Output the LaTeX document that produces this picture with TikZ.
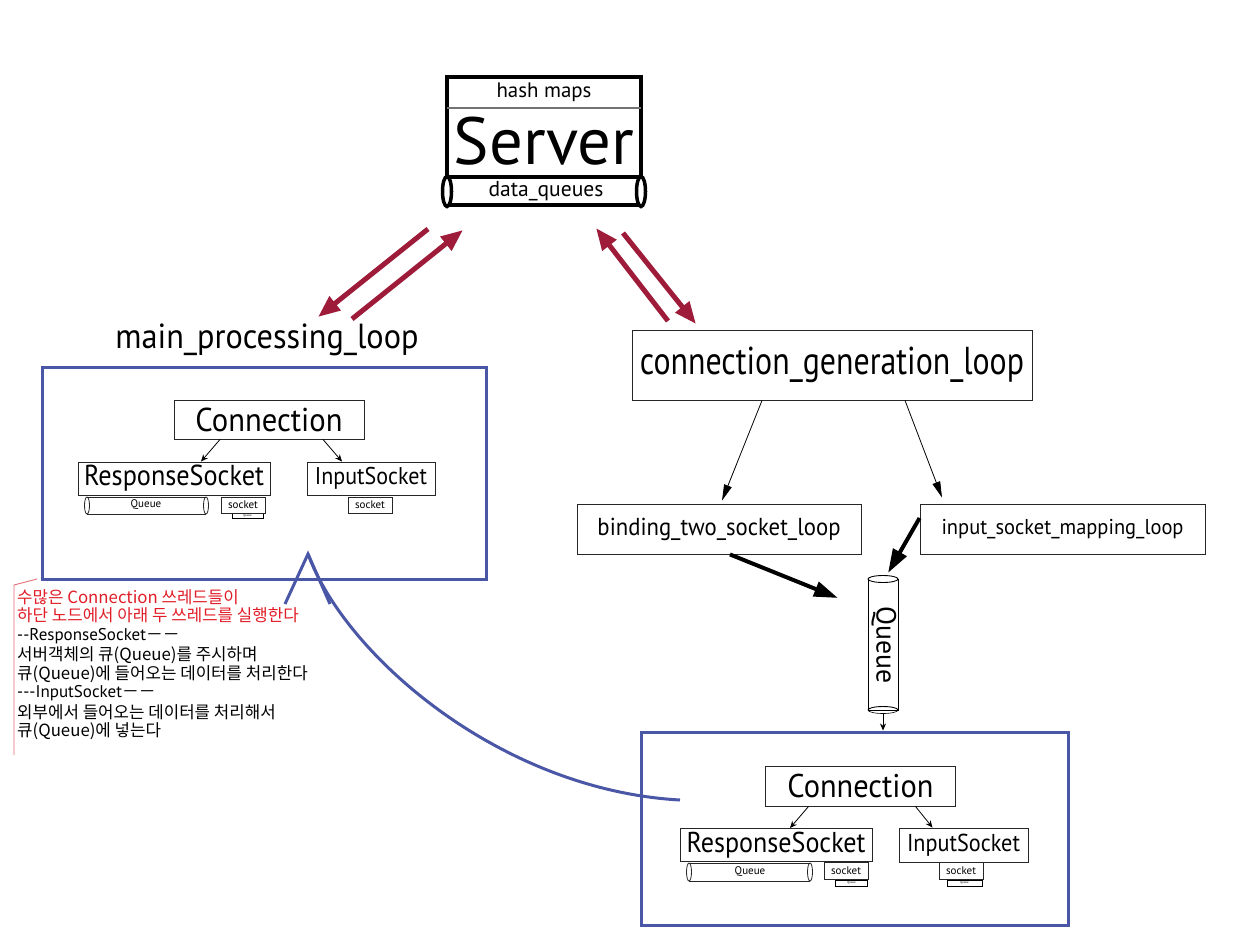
\documentclass[tikz,border=0pt]{standalone}
\usepackage{fontspec}
\setmainfont{PT Sans}
\newfontfamily\kr{Noto Sans CJK KR}
\usetikzlibrary{arrows.meta}
\definecolor{boxblue}{RGB}{74,86,166}
\definecolor{arrred}{RGB}{158,28,58}
\definecolor{notered}{RGB}{225,30,40}
\definecolor{linepink}{RGB}{228,110,120}
\newcommand{\fw}[2]{\resizebox{#1pt}{!}{#2}}
\tikzset{
  box/.style={draw=black!85, line width=0.9pt, rectangle, inner sep=0pt, fill=white},
  tinybox/.style={draw=black, line width=0.9pt, rectangle, inner sep=0pt, fill=white},
  bluebox/.style={draw=boxblue, line width=3pt, rectangle, inner sep=0pt},
  redarr/.style={draw=arrred, line width=5pt, -{Triangle[length=22pt,width=17pt]}},
  thinarr/.style={draw=black, line width=0.8pt, -{Triangle[length=16pt,width=8pt]}},
  smallarr/.style={draw=black, line width=0.8pt, -{Stealth[length=7pt,width=6pt]}},
  thickarr/.style={draw=black, line width=4pt, -{Triangle[length=24pt,width=15pt]}},
  bluecurve/.style={draw=boxblue, line width=3pt},
  note/.style={anchor=west, inner sep=0pt, font=\kr\fontsize{16.8}{19}\selectfont},
  lbl/.style={inner sep=0pt},
}
\begin{document}
\begin{tikzpicture}[x=1pt,y=-1pt]
\useasboundingbox (0,0) rectangle (1233,942);
\fill[white] (0,0) rectangle (1233,942);

% ---------------- Server ----------------
\node[draw, line width=4pt, minimum width=194, minimum height=128, inner sep=0pt] (server) at (544,141) {};
\draw[black!55, line width=1.2pt] (447,108) -- (641,108);
\draw[line width=4pt] (447,177) -- (641,177);
\node[lbl] (hash) at (544,92) {\fw{95}{hash maps}};
\node[lbl] (srv) at (544,141) {\fw{180}{Server}};
\draw[line width=3.5pt, fill=white] (447,191.5) ellipse [x radius=4.5, y radius=15];
\draw[line width=3.5pt, fill=white] (641,191.5) ellipse [x radius=4.5, y radius=15];
\node[lbl] (dq) at (546,191) {\fw{115}{data\_queues}};

% ---------------- red arrows ----------------
\coordinate (ra1s) at (428,229); \coordinate (ra1e) at (318,317);
\coordinate (ra2s) at (352,319); \coordinate (ra2e) at (463,230);
\coordinate (ra3s) at (668,321); \coordinate (ra3e) at (596,228);
\coordinate (ra4s) at (623,233); \coordinate (ra4e) at (696,324);
\draw[redarr] (ra1s) -- (ra1e);
\draw[redarr] (ra2s) -- (ra2e);
\draw[redarr] (ra3s) -- (ra3e);
\draw[redarr] (ra4s) -- (ra4e);

% ---------------- left: main_processing_loop ----------------
\node[lbl] (mainlbl) at (267,340) {\scalebox{1}[1.08]{\fw{303}{main\_processing\_loop}}};
\node[bluebox, minimum width=444, minimum height=212] (lbox) at (264,473) {};
\node[box, minimum width=190, minimum height=39] (conn1) at (269,419.5) {\scalebox{1}[1.08]{\fw{147}{Connection}}};
\node[box, minimum width=192, minimum height=33] (rs1) at (174,478.5) {\scalebox{1}[1.1]{\fw{180}{ResponseSocket}}};
\node[box, minimum width=128, minimum height=33] (is1) at (371,478.5) {\scalebox{1}[1.1]{\fw{112}{InputSocket}}};
\draw[smallarr] ([xshift=-49pt]conn1.south) -- ([xshift=27pt]rs1.north);
\draw[smallarr] ([xshift=54pt]conn1.south) -- ([xshift=-29pt]is1.north);
% queue cylinder 1
\draw[black!85, line width=0.8pt] (87,497) -- (206,497) (87,514) -- (206,514);
\draw[black!85, line width=0.8pt] (87,505.5) ellipse [x radius=2.5, y radius=8.5];
\draw[black!85, line width=0.8pt] (206,505.5) ellipse [x radius=2.5, y radius=8.5];
\node[lbl] (q1) at (146,505) {\fontsize{11}{12}\selectfont Queue};
\node[tinybox, minimum width=31, minimum height=5] (t1) at (247.5,515.5) {\fontsize{3}{3}\selectfont Queue};
\node[box, minimum width=44, minimum height=16] (s1) at (243,505) {\fontsize{11}{12}\selectfont socket};
\node[box, minimum width=44, minimum height=16] (s2) at (370,505) {\fontsize{11}{12}\selectfont socket};

% ---------------- note ----------------
\draw[linepink, line width=0.9pt] (37,579) -- (14,585) -- (14,755);
\node[note, text=notered] (n1) at (17,597) {수많은 Connection 쓰레드들이};
\node[note, text=notered] (n2) at (17,615) {하단 노드에서 아래 두 쓰레드를 실행한다};
\node[note] (n3) at (17,636) {{\rmfamily\fontsize{17}{19}\selectfont -{}-ResponseSocket}－－};
\node[note] (n4) at (17,655) {서버객체의 큐(Queue)를 주시하며};
\node[note] (n5) at (17,674) {큐(Queue)에 들어오는 데이터를 처리한다};
\node[note] (n6) at (17,693) {{\rmfamily\fontsize{17}{19}\selectfont -{}-{}-InputSocket}－－};
\node[note] (n7) at (17,712) {외부에서 들어오는 데이터를 처리해서};
\node[note] (n8) at (17,731) {큐(Queue)에 넣는다};

% ---------------- right: generation ----------------
\node[box, minimum width=400, minimum height=70] (cgl) at (832,365) {\scalebox{1}[1.22]{\fw{384}{connection\_generation\_loop}}};
\node[box, minimum width=284, minimum height=50] (bind) at (719,529) {\scalebox{1}[1.08]{\fw{243}{binding\_two\_socket\_loop}}};
\node[box, minimum width=285, minimum height=50] (ism) at (1062.5,529) {\scalebox{1}[1.05]{\fw{242}{input\_socket\_mapping\_loop}}};
\draw[thinarr] ([xshift=-70pt]cgl.south) -- ([xshift=3pt,yshift=3pt]bind.north);
\draw[thinarr] ([xshift=73pt]cgl.south) -- ([xshift=-120.5pt,yshift=6pt]ism.north);

% vertical queue
\node[draw, line width=0.9pt, minimum width=30, minimum height=131, inner sep=0pt] (qv) at (883,644.5) {};
\draw[line width=0.9pt, fill=white] (883,579) ellipse [x radius=15, y radius=3.5];
\draw[line width=0.9pt] (868,710) arc [start angle=180, end angle=360, x radius=15, y radius=3.5];
\draw[line width=0.6pt] (868,710) arc [start angle=180, end angle=0, x radius=15, y radius=3.5];
\node[lbl, rotate=-90] (qvl) at (884,645) {\fw{77}{Queue}};
\coordinate (qa) at (838,598);
\coordinate (qb) at (888,573);
\draw[thickarr] ([xshift=11pt]bind.south) -- (qa);
\draw[thickarr] ([yshift=11pt]ism.west) -- (qb);

% ---------------- bottom box ----------------
\node[bluebox, minimum width=427, minimum height=193] (bbox) at (854.5,828.5) {};
\draw[smallarr] ([yshift=-3pt]qv.south) -- (bbox.north -| qv.south);
\node[box, minimum width=190, minimum height=40] (conn2) at (860.5,786) {\scalebox{1}[1.08]{\fw{146}{Connection}}};
\node[box, minimum width=192, minimum height=33] (rs2) at (776,845) {\scalebox{1}[1.1]{\fw{179}{ResponseSocket}}};
\node[box, minimum width=129, minimum height=34] (is2) at (963.5,845) {\scalebox{1}[1.1]{\fw{113}{InputSocket}}};
\draw[smallarr] ([xshift=-52pt]conn2.south) -- ([xshift=14pt]rs2.north);
\draw[smallarr] ([xshift=55pt]conn2.south) -- ([xshift=-31pt]is2.north);
\draw[black!85, line width=0.8pt] (689,863) -- (810,863) (689,881) -- (810,881);
\draw[black!85, line width=0.8pt] (689,872) ellipse [x radius=2.5, y radius=9];
\draw[black!85, line width=0.8pt] (810,872) ellipse [x radius=2.5, y radius=9];
\node[lbl] (q2) at (750,871.5) {\fontsize{11}{12}\selectfont Queue};
\node[tinybox, minimum width=32, minimum height=6] (t2) at (851.5,883) {\fontsize{3}{3}\selectfont Queue};
\node[box, minimum width=44, minimum height=17] (s3) at (846,871) {\fontsize{11}{12}\selectfont socket};
\node[tinybox, minimum width=35, minimum height=6] (t3) at (964.5,883) {\fontsize{3}{3}\selectfont Queue};
\node[box, minimum width=44, minimum height=17] (s4) at (961,871) {\fontsize{11}{12}\selectfont socket};

% ---------------- blue curve ----------------
\coordinate (cs) at (680,800);
\coordinate (apex) at (308,554);
\coordinate (vl) at (285,604);
\coordinate (vr) at (330,604);
\draw[bluecurve] (cs) .. controls (500,790) and (345,655) .. (apex);
\draw[bluecurve, line join=miter] (vl) -- (apex) -- (vr);
\end{tikzpicture}
\end{document}
